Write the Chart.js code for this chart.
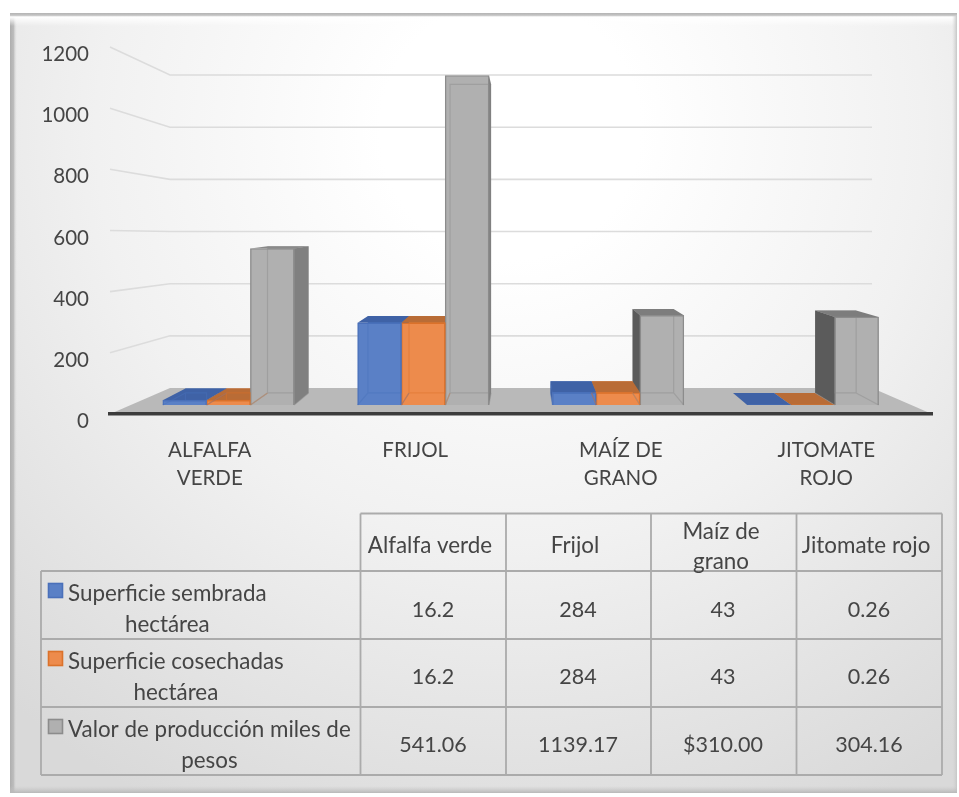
<!DOCTYPE html>
<html lang="es">
<head>
  <meta charset="UTF-8">
  <title>Superficie y valor de producción</title>
  <script src="https://cdn.jsdelivr.net/npm/chart.js"></script>
  <style>
    html, body { margin: 0; padding: 0; background: #fff; }
    canvas { display: block; }
  </style>
</head>
<body>
<canvas id="myChart" width="959" height="797"></canvas>
<script>
  const categories = [['ALFALFA', 'VERDE'], ['FRIJOL'], ['MAÍZ DE', 'GRANO'], ['JITOMATE', 'ROJO']];
  const seriesNames = ['Superficie sembrada hectárea', 'Superficie cosechadas hectárea', 'Valor de producción miles de pesos'];
  const sembrada = [16.2, 284, 43, 0.26];
  const cosechada = [16.2, 284, 43, 0.26];
  const produccion = [541.06, 1139.17, 310, 304.16];
  const yTicks = [0, 200, 400, 600, 800, 1000, 1200];

  const tableHeaders = [['Alfalfa verde'], ['Frijol'], ['Maíz de', 'grano'], ['Jitomate rojo']];
  const tableNames = [['Superficie sembrada', 'hectárea'], ['Superficie cosechadas', 'hectárea'], ['Valor de producción miles de', 'pesos']];
  const tableValues = [
    ['16.2', '284', '43', '0.26'],
    ['16.2', '284', '43', '0.26'],
    ['541.06', '1139.17', '$310.00', '304.16']
  ];

  const FONT = 'Lato, Carlito, sans-serif';
  const TEXT = '#454545';
  // front, outline, top, side
  const colors = [
    ['#5a80c6', '#4a70ba', '#3f62a6', '#3f62a6'],
    ['#ed8b4c', '#db722b', '#b96c36', '#b96c36'],
    ['#b0b0b0', '#8c8c8c', '#8a8a8a', '#808080']
  ];

  // perspective of the 3D bars: vanishing point and depth
  const VX = 522, VY = 214, S = 0.937;
  const back = (x, y) => [VX + S * (x - VX), VY + S * (y - VY)];

  function poly(ctx, pts, fill, stroke) {
    ctx.beginPath();
    pts.forEach((p, i) => i ? ctx.lineTo(p[0], p[1]) : ctx.moveTo(p[0], p[1]));
    ctx.closePath();
    ctx.fillStyle = fill;
    ctx.fill();
    if (stroke) {
      ctx.strokeStyle = stroke;
      ctx.lineWidth = 1;
      ctx.stroke();
    }
  }

  function allBars(chart) {
    const bars = [];
    chart.data.datasets.forEach((ds, s) => {
      chart.getDatasetMeta(s).data.forEach(el => bars.push({ el, s }));
    });
    return bars;
  }

  const frame = {
    id: 'frame',
    beforeDraw(chart) {
      const ctx = chart.ctx;
      const x0 = 10, y0 = 13, x1 = 957, y1 = 793;
      const bg = ctx.createRadialGradient(510, 130, 130, 510, 130, 760);
      bg.addColorStop(0, '#ffffff');
      bg.addColorStop(0.45, '#f1f1f1');
      bg.addColorStop(1, '#d9d9d9');
      ctx.fillStyle = bg;
      ctx.fillRect(x0, y0, x1 - x0, y1 - y0);

      let g = ctx.createLinearGradient(x0, 0, x0 + 7, 0);
      g.addColorStop(0, '#aeaeae');
      g.addColorStop(0.5, '#bdbdbd');
      g.addColorStop(1, 'rgba(225,225,225,0)');
      ctx.fillStyle = g;
      ctx.fillRect(x0, y0, 7, y1 - y0);

      g = ctx.createLinearGradient(0, y0, 0, y0 + 13);
      g.addColorStop(0, '#b4b4b4');
      g.addColorStop(0.18, '#c4c4c4');
      g.addColorStop(0.3, '#ffffff');
      g.addColorStop(1, 'rgba(255,255,255,0)');
      ctx.fillStyle = g;
      ctx.fillRect(x0, y0, x1 - x0, 13);

      g = ctx.createLinearGradient(x1 - 5, 0, x1, 0);
      g.addColorStop(0, 'rgba(215,215,215,0)');
      g.addColorStop(1, '#c6c6c6');
      ctx.fillStyle = g;
      ctx.fillRect(x1 - 5, y0 + 3, 5, y1 - y0 - 3);

      g = ctx.createLinearGradient(0, y1 - 7, 0, y1);
      g.addColorStop(0, 'rgba(200,200,200,0)');
      g.addColorStop(1, '#b8b8b8');
      ctx.fillStyle = g;
      ctx.fillRect(x0, y1 - 7, x1 - x0, 7);
    }
  };

  const walls = {
    id: 'walls',
    beforeDatasetsDraw(chart) {
      const ctx = chart.ctx, area = chart.chartArea;
      const front = chart.scales.y, wall = chart.scales.yWall;
      ctx.save();
      yTicks.filter(v => v > 0).forEach(v => {
        ctx.beginPath();
        ctx.moveTo(area.left, front.getPixelForValue(v));
        ctx.lineTo(170, wall.getPixelForValue(v));
        ctx.lineTo(872, wall.getPixelForValue(v));
        ctx.strokeStyle = '#dcdcdc';
        ctx.lineWidth = 1.6;
        ctx.stroke();
      });
      const f = area.bottom, b = wall.getPixelForValue(0);
      poly(ctx, [[area.left, f], [170, b], [872, b], [area.right, f]], '#b9b9b9');

      // faces behind the front of each bar, outer bars first
      const bars = allBars(chart);
      const left = bars.filter(b => b.el.x < VX).sort((a, b) => a.el.x - b.el.x);
      const right = bars.filter(b => b.el.x >= VX).sort((a, b) => b.el.x - a.el.x);
      left.concat(right).forEach(({ el, s }) => {
        const l = el.x - el.width / 2, r = el.x + el.width / 2;
        const c = colors[s];
        const tl = back(l, el.y), tr = back(r, el.y), bl = back(l, el.base), br = back(r, el.base);
        poly(ctx, [tl, tr, br, bl], c[0]);
        if (r < VX) poly(ctx, [[r, el.y], tr, br, [r, el.base]], c[3]);
        if (l > VX) poly(ctx, [[l, el.y], tl, bl, [l, el.base]], s === 2 ? '#5b5b5b' : c[3]);
        if (tl[1] < el.y) poly(ctx, [[l, el.y], [r, el.y], tr, tl], s === 2 && l > VX ? '#7d7d7d' : c[2]);
      });
      ctx.restore();
    },
    afterDatasetsDraw(chart) {
      // edges seen through the front of the bars
      const ctx = chart.ctx;
      ctx.save();
      allBars(chart).forEach(({ el, s }) => {
        if (el.base - el.y < 3) return;
        const l = el.x - el.width / 2, r = el.x + el.width / 2;
        const tl = back(l, el.y), tr = back(r, el.y), bl = back(l, el.base), br = back(r, el.base);
        ctx.strokeStyle = colors[s][1];
        ctx.globalAlpha = 0.45;
        ctx.lineWidth = 1.2;
        ctx.beginPath();
        ctx.moveTo(Math.max(l, tl[0]), Math.max(el.y, tl[1]));
        ctx.lineTo(Math.max(l, bl[0]), bl[1]);
        ctx.lineTo(Math.min(r, br[0]), br[1]);
        ctx.lineTo(Math.min(r, tr[0]), Math.max(el.y, tr[1]));
        ctx.closePath();
        ctx.moveTo(l, el.base);
        ctx.lineTo(bl[0], bl[1]);
        ctx.moveTo(r, el.base);
        ctx.lineTo(br[0], br[1]);
        ctx.stroke();
      });
      ctx.restore();
    }
  };

  const dataTable = {
    id: 'dataTable',
    afterDraw(chart) {
      const ctx = chart.ctx;
      const colX = [41, 360.5, 506, 651, 796.5, 942];
      const rowY = [513.5, 571, 639, 707, 775];
      const cx = [433, 578, 723, 869];
      ctx.save();
      ctx.strokeStyle = '#ababab';
      ctx.lineWidth = 1.8;
      ctx.beginPath();
      rowY.forEach((y, i) => { ctx.moveTo(i ? colX[0] : colX[1], y); ctx.lineTo(colX[5], y); });
      colX.forEach((x, i) => { ctx.moveTo(x, i ? rowY[0] : rowY[1]); ctx.lineTo(x, rowY[4]); });
      ctx.stroke();

      ctx.fillStyle = TEXT;
      ctx.font = '21.5px ' + FONT;
      ctx.textBaseline = 'middle';
      ctx.textAlign = 'center';
      tableValues.forEach((row, r) => {
        row.forEach((t, i) => ctx.fillText(t, cx[i], [610, 677, 745][r]));
      });
      ctx.font = '22.4px ' + FONT;
      tableHeaders.forEach((lines, i) => {
        if (lines.length === 1) ctx.fillText(lines[0], cx[i] - 3, 546);
        else lines.forEach((t, k) => ctx.fillText(t, cx[i] - 2, 532 + k * 30));
      });
      tableNames.forEach((lines, r) => {
        const top = rowY[r + 1];
        const w = ctx.measureText(lines[0]).width;
        const c = colors[r];
        ctx.fillStyle = c[0];
        ctx.strokeStyle = c[1];
        ctx.lineWidth = 1.6;
        ctx.fillRect(48.5, top + 12.5, 14, 14);
        ctx.strokeRect(48.5, top + 12.5, 14, 14);
        ctx.fillStyle = TEXT;
        ctx.fillText(lines[0], 68 + w / 2, top + 23);
        ctx.fillText(lines[1], 68 + w / 2, top + 53.5);
      });
      ctx.restore();
    }
  };

  new Chart(document.getElementById('myChart'), {
    type: 'bar',
    data: {
      labels: categories,
      datasets: [sembrada, cosechada, produccion].map((values, s) => ({
        label: seriesNames[s],
        data: values.map((v, i) => ({ x: i, y: v })),
        xAxisID: 'xBars',
        yAxisID: 'yBars',
        backgroundColor: colors[s][0],
        borderColor: colors[s][1],
        borderWidth: 1.4,
        barThickness: 43.8
      }))
    },
    plugins: [frame, walls, dataTable],
    options: {
      responsive: false,
      animation: false,
      layout: { padding: { top: 47, right: 27, left: 0, bottom: 0 } },
      plugins: { legend: { display: false }, tooltip: { enabled: false } },
      scales: {
        x: {
          type: 'category',
          offset: true,
          afterFit: s => { s.height = 383; },
          grid: { display: false, drawTicks: false },
          border: { display: true, color: '#3c3c3c', width: 3.5, z: 1 },
          ticks: {
            autoSkip: false, maxRotation: 0, padding: 23, labelOffset: -3, color: TEXT,
            font: { family: FONT, size: 20.5, lineHeight: 1.33 }
          }
        },
        y: {
          min: 0, max: 1200,
          afterFit: s => { s.width = 110; },
          grid: { display: false, drawTicks: false },
          border: { display: false },
          ticks: {
            stepSize: 200, padding: 21, labelOffset: 7.5, color: TEXT,
            font: { family: FONT, size: 20.5 },
            callback: v => String(v)
          }
        },
        // plane of the bar fronts, narrower than the front edge of the floor
        xBars: { type: 'linear', display: false, offset: false, min: -0.6083, max: 3.6113 },
        yBars: { display: false, min: -31.1, max: 1237.9 },
        // back wall of the chart
        yWall: { display: false, min: -99.7, max: 1307.5 }
      }
    }
  });
</script>
</body>
</html>
